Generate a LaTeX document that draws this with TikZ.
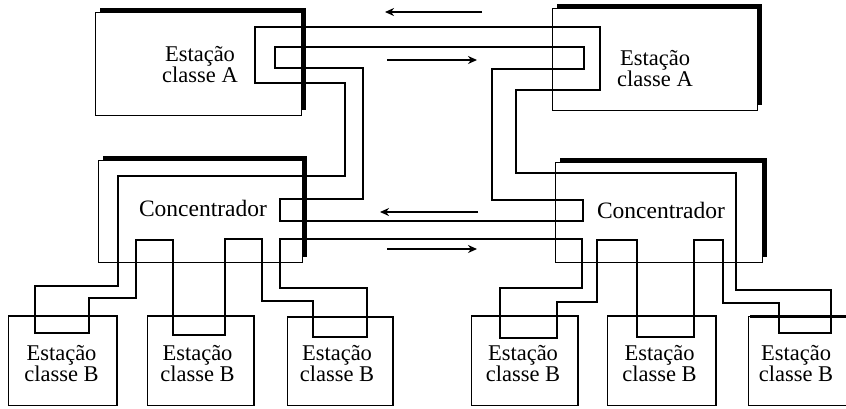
\documentclass[tikz,border=0pt]{standalone}
\usepackage{fontspec}
\setmainfont{Liberation Serif}
\usetikzlibrary{arrows.meta}
\begin{document}
\begin{tikzpicture}[x=1pt,y=-1pt,
  boxnode/.style={draw, line width=0.9pt, rectangle, inner sep=0pt, anchor=north west},
  shadowline/.style={line width=4.4pt, line cap=butt, line join=miter},
  bshadow/.style={line width=2.2pt, line cap=butt, line join=miter},
  ring/.style={line width=1.8pt, line join=miter},
  flow/.style={line width=1.6pt, -{Stealth[length=9pt,width=8pt]}},
  lbl/.style={align=center, font=\fontsize{22.5}{21}\selectfont, inner sep=0pt},
  clbl/.style={font=\fontsize{23.5}{24}\selectfont, inner sep=0pt},
]
\useasboundingbox (0,0) rectangle (846,408);
\clip (0,0) rectangle (846,408);
\fill[white] (0,0) rectangle (846,408);

% class A stations
\node[boxnode, minimum width=206pt, minimum height=103pt] (A1) at (95,12) {};
\node[boxnode, minimum width=205pt, minimum height=102pt] (A2) at (552,8) {};
% concentrators
\node[boxnode, minimum width=204pt, minimum height=102pt] (C1) at (98,160) {};
\node[boxnode, minimum width=207pt, minimum height=100pt] (C2) at (555,162) {};
% class B stations
\node[boxnode, minimum width=108pt, minimum height=89pt] (B1) at (8,316) {};
\node[boxnode, minimum width=106pt, minimum height=89pt] (B2) at (147,316) {};
\node[boxnode, minimum width=105pt, minimum height=88pt] (B3) at (287,317) {};
\node[boxnode, minimum width=106pt, minimum height=89pt] (B4) at (471,316) {};
\node[boxnode, minimum width=108pt, minimum height=89pt] (B5) at (607,316) {};
\node[boxnode, minimum width=108pt, minimum height=89pt] (B6) at (748,316) {};

% shadows
\foreach \n in {A1,A2,C1,C2}
  \draw[shadowline] ([xshift=5pt,yshift=2pt]\n.north west) -| ([xshift=2pt,yshift=6pt]\n.south east);
\foreach \n in {B1,B2,B3,B4,B5}
  \draw[bshadow] (\n.north west) -| (\n.south east);
\draw[line width=3pt] ([xshift=2pt]B6.north west) -- (B6.north east);

% labels
\node[lbl] (tA1) at (200,65) {Estação\\classe A};
\node[lbl] (tA2) at (655,69) {Estação\\classe A};
\node[clbl] (tC1) at (203,208) {Concentrador};
\node[clbl] (tC2) at (661,210) {Concentrador};
\node[lbl] (tB1) at (61.5,364) {Estação\\classe B};
\node[lbl] (tB2) at (197.5,364) {Estação\\classe B};
\node[lbl] (tB3) at (337,364) {Estação\\classe B};
\node[lbl] (tB4) at (523,364) {Estação\\classe B};
\node[lbl] (tB5) at (659.5,364) {Estação\\classe B};
\node[lbl] (tB6) at (796,364) {Estação\\classe B};

% secondary ring (class A stations and concentrators)
\draw[ring] (275,47) -- (584,47) -- (584,69) -- (492,69) -- (492,200) -- (583,200)
  -- (583,221) -- (280,221) -- (280,199) -- (363,199) -- (363,68) -- (275,68) -- cycle;

% primary ring (through all stations)
\draw[ring] (255,27) -- (600,27) -- (600,90) -- (516,90) -- (516,173) -- (736,173)
  -- (736,290) -- (831,290) -- (831,333) -- (779,333) -- (779,303) -- (723,303)
  -- (723,240) -- (694,240) -- (694,337) -- (637,337) -- (637,240) -- (597,240)
  -- (597,302) -- (557,302) -- (557,338) -- (500,338) -- (500,288) -- (582,288)
  -- (582,239) -- (280,239) -- (280,288) -- (367,288) -- (367,337) -- (313,337)
  -- (313,301) -- (262,301) -- (262,239) -- (225,239) -- (225,335) -- (173,335)
  -- (173,240) -- (136,240) -- (136,298) -- (89,298) -- (89,333) -- (35,333)
  -- (35,286) -- (118,286) -- (118,176) -- (345,176) -- (345,83) -- (255,83) -- cycle;

% direction arrows
\coordinate (a1s) at (482,12); \coordinate (a1e) at (385,12);
\coordinate (a2s) at (387,60); \coordinate (a2e) at (477,60);
\coordinate (a3s) at (478,212); \coordinate (a3e) at (380,212);
\coordinate (a4s) at (387,249); \coordinate (a4e) at (477,249);
\draw[flow] (a1s) -- (a1e);
\draw[flow] (a2s) -- (a2e);
\draw[flow] (a3s) -- (a3e);
\draw[flow] (a4s) -- (a4e);
\end{tikzpicture}
\end{document}
